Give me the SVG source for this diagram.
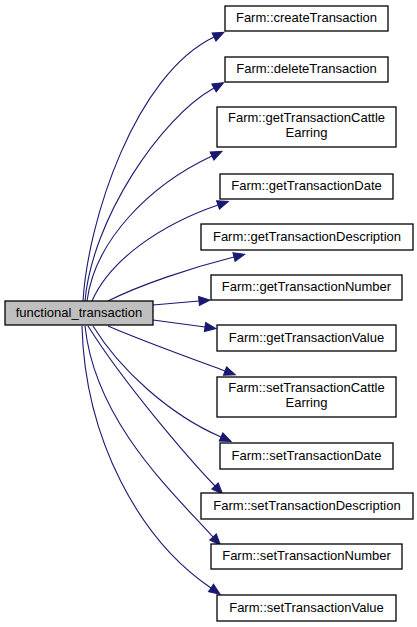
<svg xmlns="http://www.w3.org/2000/svg" width="417" height="627" viewBox="0 0 417 627">
<defs>
<style>
.box{fill:#ffffff;stroke:#000000;stroke-width:1.3}
.main{fill:#bfbfbf;stroke:#000000;stroke-width:1.3}
text{font-family:"Liberation Sans",Arial,sans-serif;font-size:13px;fill:#000000;text-anchor:middle}
.edge{fill:none;stroke:#191970;stroke-width:1.1;marker-end:url(#arr)}
</style>
<marker id="arr" markerUnits="userSpaceOnUse" markerWidth="14" markerHeight="11" refX="0" refY="0" viewBox="0 -5.5 14 11" orient="auto" overflow="visible">
<path d="M0,-4.5 L11,0 L0,4.5 Z" fill="#191970" stroke="#191970" stroke-width="1"/>
</marker>
</defs>
<rect width="417" height="627" fill="#ffffff"/>
<g id="edges">
<path class="edge" d="M83,301 C88,220 135,75 214,37"/>
<path class="edge" d="M85,301 C92,220 160,118 214,88"/>
<path class="edge" d="M87,301 C95,240 150,185 212,156"/>
<path class="edge" d="M92,301 C110,260 160,225 218,205"/>
<path class="edge" d="M108,301 C140,285 190,268 234,257"/>
<path class="edge" d="M153,305 L199,301"/>
<path class="edge" d="M153,320 L205,327"/>
<path class="edge" d="M108,326 C140,340 190,358 225,371"/>
<path class="edge" d="M93,326 C120,370 170,415 221,437"/>
<path class="edge" d="M88,326 C125,385 190,460 215,486"/>
<path class="edge" d="M85,326 C95,420 170,490 213,537"/>
<path class="edge" d="M82,326 C85,440 140,540 211,588"/>
</g>
<g id="functional_transaction"><rect class="main" x="5" y="301" width="148" height="24"/><text x="79" y="317">functional_transaction</text></g>
<g id="createTransaction"><rect class="box" x="225" y="6" width="163" height="25"/><text x="306.5" y="22">Farm::createTransaction</text></g>
<g id="deleteTransaction"><rect class="box" x="225" y="57" width="163" height="25"/><text x="306.5" y="73">Farm::deleteTransaction</text></g>
<g id="getTransactionCattleEarring"><rect class="box" x="217" y="107" width="179" height="40"/><text x="306.5" y="122">Farm::getTransactionCattle</text><text x="306.5" y="137">Earring</text></g>
<g id="getTransactionDate"><rect class="box" x="220" y="174" width="173" height="25"/><text x="306.5" y="190">Farm::getTransactionDate</text></g>
<g id="getTransactionDescription"><rect class="box" x="201" y="224" width="212" height="26"/><text x="307" y="241">Farm::getTransactionDescription</text></g>
<g id="getTransactionNumber"><rect class="box" x="211" y="275" width="191" height="25"/><text x="306.5" y="291">Farm::getTransactionNumber</text></g>
<g id="getTransactionValue"><rect class="box" x="217" y="325" width="179" height="26"/><text x="306.5" y="342">Farm::getTransactionValue</text></g>
<g id="setTransactionCattleEarring"><rect class="box" x="217" y="377" width="179" height="40"/><text x="306.5" y="392">Farm::setTransactionCattle</text><text x="306.5" y="407">Earring</text></g>
<g id="setTransactionDate"><rect class="box" x="220" y="443" width="173" height="26"/><text x="306.5" y="460">Farm::setTransactionDate</text></g>
<g id="setTransactionDescription"><rect class="box" x="201" y="493" width="212" height="26"/><text x="307" y="510">Farm::setTransactionDescription</text></g>
<g id="setTransactionNumber"><rect class="box" x="211" y="544" width="191" height="25"/><text x="306.5" y="560">Farm::setTransactionNumber</text></g>
<g id="setTransactionValue"><rect class="box" x="217" y="595" width="179" height="26"/><text x="306.5" y="612">Farm::setTransactionValue</text></g>
</svg>
